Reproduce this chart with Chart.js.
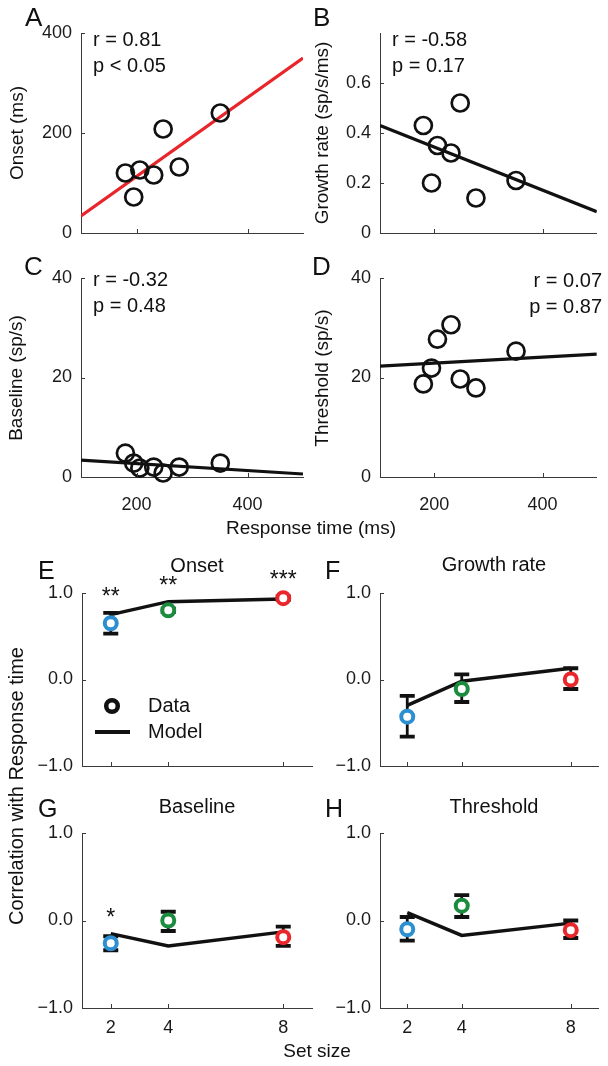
<!DOCTYPE html>
<html>
<head>
<meta charset="utf-8">
<title>Response time correlations</title>
<script src="https://cdn.jsdelivr.net/npm/chart.js@4.4.1/dist/chart.umd.min.js"></script>
<style>
  html, body { margin: 0; padding: 0; background: #fff; }
  #page { position: relative; width: 608px; height: 1066px; overflow: hidden; }
  #page canvas { position: absolute; left: 0; top: 0; }
</style>
</head>
<body>
<div id="page"></div>
<script>
// ---- A-D: one point per neuron, x = mean response time (ms) ----
const responseTime  = [180, 195, 206, 231, 248, 277, 351];
const onsetMs       = [120, 72, 126, 116, 208, 132, 240];
const growthRate    = [0.43, 0.20, 0.35, 0.32, 0.52, 0.14, 0.21];
const baselineRate  = [4.8, 2.8, 1.8, 2.0, 0.8, 2.0, 2.8];
const thresholdRate = [18.7, 21.9, 27.7, 30.6, 19.7, 17.9, 25.3];

// regression lines: value at both ends of the x range
const fitX         = [100, 500];
const onsetFit     = [34, 350];
const growthFit    = [0.43, 0.085];
const baselineFit  = [3.4, 0.6];
const thresholdFit = [22.3, 24.7];

const rtTicks     = [200, 400];
const onsetTicks  = [0, 200, 400];
const growthTicks = [0, 0.2, 0.4, 0.6];
const rateTicks   = [0, 20, 40];

// ---- E-H: correlation with response time per set size ----
const setSizes  = [2, 4, 8];
const setColors = ['#2b8fd0', '#1b8c3e', '#e8262b'];
const corrTicks = [-1, 0, 1];

const onsetCorr  = [0.65, 0.80, 0.94];
const onsetLo    = [0.53, 0.78, 0.92];
const onsetHi    = [0.77, 0.82, 0.96];
const onsetModel = [0.75, 0.90, 0.93];
const onsetStars = ['**', '**', '***'];

const growthCorr  = [-0.43, -0.11, 0.00];
const growthLo    = [-0.66, -0.26, -0.11];
const growthHi    = [-0.19, 0.06, 0.13];
const growthModel = [-0.30, -0.02, 0.13];

const baseCorr  = [-0.26, 0.00, -0.19];
const baseLo    = [-0.34, -0.12, -0.29];
const baseHi    = [-0.18, 0.10, -0.07];
const baseModel = [-0.15, -0.29, -0.13];
const baseStars = ['*', '', ''];

const thrCorr  = [-0.10, 0.17, -0.11];
const thrLo    = [-0.23, 0.04, -0.20];
const thrHi    = [0.04, 0.29, 0.00];
const thrModel = [0.09, -0.17, -0.03];

// ---- drawing ----
const FONT = '"Liberation Sans", Arial, Helvetica, sans-serif';
const INK = '#111';
const AXIS = '#3a3a3a';
const W = 608, H = 1066;
const YW = 70, XH = 50;   // fixed axis box sizes so every plot area lands where we want
const page = document.getElementById('page');

const fmtCorr = v => (v < 0 ? '\u2212' : '') + Math.abs(v).toFixed(1);

function axis(min, max, ticks, o) {
  return {
    type: 'linear', min, max,
    afterBuildTicks: s => { s.ticks = ticks.map(v => ({ value: v })); },
    grid: { display: true, drawOnChartArea: false, drawTicks: false },
    border: { display: true, color: AXIS, width: 1 },
    ticks: {
      display: o.labels, color: '#1a1a1a', padding: o.pad,
      font: { family: FONT, size: 18 },
      callback: o.fmt || (v => v),
    },
    afterFit: s => { if (o.horizontal) s.height = XH; else s.width = YW; },
  };
}

// small tick marks pointing into the plot, matlab style
const inwardTicks = {
  id: 'inwardTicks',
  afterDraw(chart) {
    const { ctx, chartArea: a, scales: { x, y } } = chart;
    ctx.save();
    ctx.strokeStyle = AXIS;
    ctx.lineWidth = 1;
    ctx.beginPath();
    x.ticks.forEach(t => {
      const px = Math.round(x.getPixelForValue(t.value)) + 0.5;
      ctx.moveTo(px, a.bottom); ctx.lineTo(px, a.bottom - 4);
    });
    y.ticks.forEach(t => {
      const py = Math.round(y.getPixelForValue(t.value)) + 0.5;
      ctx.moveTo(a.left, py); ctx.lineTo(a.left + 4, py);
    });
    ctx.stroke();
    ctx.restore();
  }
};

function notesPlugin(notes) {
  return {
    id: 'notes',
    afterDraw(chart) {
      const ctx = chart.ctx;
      notes.forEach(n => {
        ctx.save();
        ctx.font = `${n.size || 20}px ${FONT}`;
        ctx.fillStyle = INK;
        ctx.textAlign = n.align || 'left';
        ctx.textBaseline = n.base || 'alphabetic';
        ctx.translate(n.x, n.y);
        if (n.rot) ctx.rotate(-Math.PI / 2);
        ctx.fillText(n.text, 0, 0);
        ctx.restore();
      });
    }
  };
}

function errorBars(lo, hi) {
  return {
    id: 'errorBars',
    beforeDatasetsDraw(chart) {
      const { ctx, scales: { x, y } } = chart;
      ctx.save();
      ctx.strokeStyle = INK;
      setSizes.forEach((s, i) => {
        const px = x.getPixelForValue(s);
        const y1 = y.getPixelForValue(lo[i]), y2 = y.getPixelForValue(hi[i]);
        ctx.lineWidth = 2.8;
        ctx.beginPath(); ctx.moveTo(px, y1); ctx.lineTo(px, y2); ctx.stroke();
        ctx.lineWidth = 3.8;
        ctx.beginPath();
        ctx.moveTo(px - 7.5, y1); ctx.lineTo(px + 7.5, y1);
        ctx.moveTo(px - 7.5, y2); ctx.lineTo(px + 7.5, y2);
        ctx.stroke();
      });
      ctx.restore();
    }
  };
}

function starsPlugin(stars, hi, model) {
  return {
    id: 'stars',
    afterDatasetsDraw(chart) {
      const { ctx, scales: { x, y } } = chart;
      ctx.save();
      ctx.font = `23px ${FONT}`;
      ctx.fillStyle = INK;
      ctx.textAlign = 'center';
      stars.forEach((s, i) => {
        if (!s) return;
        const top = y.getPixelForValue(Math.max(hi[i], model[i]));
        ctx.fillText(s, x.getPixelForValue(setSizes[i]), top - 22 + 13);
      });
      ctx.restore();
    }
  };
}

const legendE = {
  id: 'legendE',
  afterDraw(chart) {
    const { ctx, chartArea: a } = chart;
    const lx = a.left + 30, y1 = a.top + 113, y2 = a.top + 139;
    ctx.save();
    ctx.strokeStyle = INK;
    ctx.lineWidth = 4.5;
    ctx.beginPath(); ctx.arc(lx, y1, 5.8, 0, Math.PI * 2); ctx.stroke();
    ctx.lineWidth = 4;
    ctx.beginPath(); ctx.moveTo(lx - 17, y2); ctx.lineTo(lx + 18, y2); ctx.stroke();
    ctx.font = `20px ${FONT}`;
    ctx.fillStyle = INK;
    ctx.textBaseline = 'middle';
    ctx.fillText('Data', a.left + 66, y1);
    ctx.fillText('Model', a.left + 66, y2);
    ctx.restore();
  }
};

function makeChart(area, datasets, xs, ys, plugins) {
  const canvas = document.createElement('canvas');
  canvas.width = W; canvas.height = H;
  page.appendChild(canvas);
  return new Chart(canvas, {
    type: 'scatter',
    data: { datasets },
    options: {
      responsive: false, animation: false, events: [],
      layout: { padding: { left: area.l - YW, right: W - area.r, top: area.t, bottom: H - area.b - XH } },
      plugins: { legend: { display: false }, tooltip: { enabled: false } },
      scales: { x: xs, y: ys },
    },
    plugins: [inwardTicks, ...plugins],
  });
}

function scatterPanel(area, values, fit, yMax, yTicks, color, showX, notes) {
  const points = responseTime.map((x, i) => ({ x, y: values[i] }));
  const line = fitX.map((x, i) => ({ x, y: fit[i] }));
  makeChart(area, [
    { data: points, pointRadius: 8.5, pointBorderWidth: 2.7, pointBorderColor: INK,
      pointBackgroundColor: 'rgba(0,0,0,0)', clip: false },
    { data: line, showLine: true, borderColor: color, borderWidth: 3.2, pointRadius: 0 },
  ],
  axis(100, 500, rtTicks, { labels: showX, pad: 17, horizontal: true }),
  axis(0, yMax, yTicks, { labels: true, pad: 9 }),
  [notesPlugin(notes)]);
}

function corrPanel(area, corr, lo, hi, model, stars, showX, notes, extra) {
  const points = setSizes.map((x, i) => ({ x, y: corr[i] }));
  const line = setSizes.map((x, i) => ({ x, y: model[i] }));
  const plugins = [errorBars(lo, hi), starsPlugin(stars, hi, model), notesPlugin(notes)];
  if (extra) plugins.push(extra);
  makeChart(area, [
    { data: points, pointRadius: 6, pointBorderWidth: 4, pointBorderColor: setColors,
      pointBackgroundColor: '#fff', clip: false },
    { data: line, showLine: true, borderColor: INK, borderWidth: 3.5, pointRadius: 0, clip: false },
  ],
  axis(1, 9, setSizes, { labels: showX, pad: 9, horizontal: true }),
  axis(-1, 1, corrTicks, { labels: true, pad: 9, fmt: fmtCorr }),
  plugins);
}

scatterPanel({ l: 81, r: 303, t: 33, b: 233 }, onsetMs, onsetFit, 400, onsetTicks, '#e8252b', false, [
  { text: 'A', x: 25, y: 26, size: 26 },
  { text: 'r = 0.81', x: 93, y: 46 },
  { text: 'p < 0.05', x: 93, y: 72 },
  { text: 'Onset (ms)', x: 18, y: 133, size: 19, rot: true, align: 'center', base: 'middle' },
]);
scatterPanel({ l: 380, r: 603, t: 33, b: 233 }, growthRate, growthFit, 0.8, growthTicks, INK, false, [
  { text: 'B', x: 313, y: 26, size: 26 },
  { text: 'r = -0.58', x: 392, y: 46 },
  { text: 'p = 0.17', x: 392, y: 72 },
  { text: 'Growth rate (sp/s/ms)', x: 323, y: 133, size: 19, rot: true, align: 'center', base: 'middle' },
]);
scatterPanel({ l: 81, r: 303, t: 278, b: 477 }, baselineRate, baselineFit, 40, rateTicks, INK, true, [
  { text: 'C', x: 24, y: 275, size: 26 },
  { text: 'r = -0.32', x: 93, y: 286 },
  { text: 'p = 0.48', x: 93, y: 312 },
  { text: 'Baseline (sp/s)', x: 17, y: 378, size: 19, rot: true, align: 'center', base: 'middle' },
  { text: 'Response time (ms)', x: 311, y: 534, size: 19, align: 'center' },
]);
scatterPanel({ l: 380, r: 603, t: 278, b: 477 }, thresholdRate, thresholdFit, 40, rateTicks, INK, true, [
  { text: 'D', x: 312, y: 275, size: 26 },
  { text: 'r = 0.07', x: 602, y: 287, align: 'right' },
  { text: 'p = 0.87', x: 602, y: 313, align: 'right' },
  { text: 'Threshold (sp/s)', x: 323, y: 378, size: 19, rot: true, align: 'center', base: 'middle' },
]);

corrPanel({ l: 82, r: 312, t: 593, b: 766 }, onsetCorr, onsetLo, onsetHi, onsetModel, onsetStars, false, [
  { text: 'E', x: 38, y: 579, size: 25 },
  { text: 'Onset', x: 197, y: 572, align: 'center' },
  { text: 'Correlation with Response time', x: 17, y: 786, size: 20, rot: true, align: 'center', base: 'middle' },
], legendE);
corrPanel({ l: 380, r: 608, t: 593, b: 766 }, growthCorr, growthLo, growthHi, growthModel, ['', '', ''], false, [
  { text: 'F', x: 325, y: 579, size: 25 },
  { text: 'Growth rate', x: 494, y: 571, align: 'center' },
]);
corrPanel({ l: 82, r: 312, t: 833, b: 1008 }, baseCorr, baseLo, baseHi, baseModel, baseStars, true, [
  { text: 'G', x: 38, y: 817, size: 25 },
  { text: 'Baseline', x: 197, y: 813, align: 'center' },
  { text: 'Set size', x: 317, y: 1057, size: 19, align: 'center' },
]);
corrPanel({ l: 380, r: 608, t: 833, b: 1008 }, thrCorr, thrLo, thrHi, thrModel, ['', '', ''], true, [
  { text: 'H', x: 325, y: 817, size: 25 },
  { text: 'Threshold', x: 494, y: 813, align: 'center' },
]);
</script>
</body>
</html>
